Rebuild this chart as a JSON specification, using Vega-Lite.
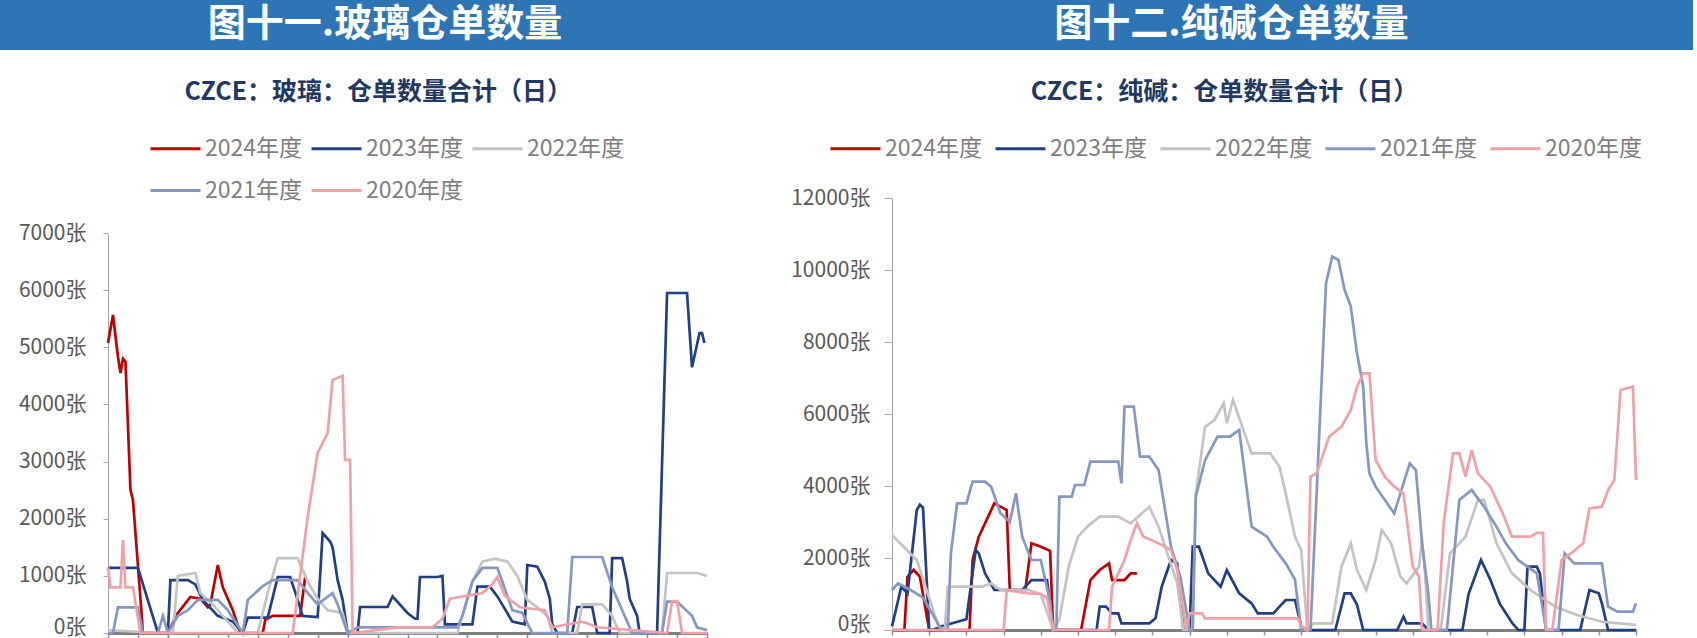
{
  "$schema": "https://vega.github.io/schema/vega-lite/v6.json",
  "padding": 0,
  "background": "#FFFFFF",
  "spacing": 0,
  "config": {
    "font": "Noto Sans CJK SC",
    "view": {"stroke": null},
    "concat": {"spacing": 0},
    "axis": {"grid": false}
  },
  "resolve": {"scale": {"color": "independent"}, "legend": {"color": "independent"}},
  "datasets": {
    "glass": [
      {"s":"2024年度","t":0,"v":5075},{"s":"2024年度","t":2,"v":5565},{"s":"2024年度","t":4,"v":4830},{"s":"2024年度","t":5,"v":4550},{"s":"2024年度","t":6,"v":4800},{"s":"2024年度","t":7,"v":4750},{"s":"2024年度","t":9,"v":2500},{"s":"2024年度","t":10,"v":2330},{"s":"2024年度","t":13,"v":600},{"s":"2024年度","t":14,"v":0},{"s":"2024年度","t":24,"v":0},{"s":"2024年度","t":28,"v":350},{"s":"2024年度","t":33,"v":630},{"s":"2024年度","t":37,"v":600},{"s":"2024年度","t":40,"v":450},{"s":"2024年度","t":41,"v":500},{"s":"2024年度","t":44,"v":1190},{"s":"2024年度","t":46,"v":800},{"s":"2024年度","t":50,"v":400},{"s":"2024年度","t":53,"v":0},{"s":"2024年度","t":62,"v":0},{"s":"2024年度","t":63,"v":230},{"s":"2024年度","t":66,"v":300},{"s":"2024年度","t":77,"v":300},{"s":"2024年度","t":79,"v":980},
      {"s":"2023年度","t":0,"v":1140},{"s":"2023年度","t":12,"v":1140},{"s":"2023年度","t":20,"v":0},{"s":"2023年度","t":24,"v":0},{"s":"2023年度","t":25,"v":925},{"s":"2023年度","t":32,"v":925},{"s":"2023年度","t":35,"v":850},{"s":"2023年度","t":38,"v":580},{"s":"2023年度","t":44,"v":300},{"s":"2023年度","t":50,"v":200},{"s":"2023年度","t":54,"v":0},{"s":"2023年度","t":56,"v":270},{"s":"2023年度","t":64,"v":270},{"s":"2023年度","t":68,"v":980},{"s":"2023年度","t":73,"v":980},{"s":"2023年度","t":76,"v":580},{"s":"2023年度","t":78,"v":300},{"s":"2023年度","t":84,"v":280},{"s":"2023年度","t":86,"v":1750},{"s":"2023年度","t":89,"v":1600},{"s":"2023年度","t":90,"v":1500},{"s":"2023年度","t":92,"v":925},{"s":"2023年度","t":94,"v":580},{"s":"2023年度","t":96,"v":0},{"s":"2023年度","t":100,"v":0},{"s":"2023年度","t":101,"v":455},{"s":"2023年度","t":112,"v":455},{"s":"2023年度","t":114,"v":640},{"s":"2023年度","t":120,"v":350},{"s":"2023年度","t":123,"v":250},{"s":"2023年度","t":124,"v":250},{"s":"2023年度","t":125,"v":980},{"s":"2023年度","t":132,"v":980},{"s":"2023年度","t":134,"v":1000},{"s":"2023年度","t":135,"v":150},{"s":"2023年度","t":146,"v":150},{"s":"2023年度","t":148,"v":810},{"s":"2023年度","t":153,"v":810},{"s":"2023年度","t":156,"v":640},{"s":"2023年度","t":162,"v":200},{"s":"2023年度","t":167,"v":150},{"s":"2023年度","t":168,"v":1190},{"s":"2023年度","t":172,"v":1160},{"s":"2023年度","t":175,"v":900},{"s":"2023年度","t":177,"v":600},{"s":"2023年度","t":178,"v":150},{"s":"2023年度","t":180,"v":0},{"s":"2023年度","t":186,"v":0},{"s":"2023年度","t":188,"v":455},{"s":"2023年度","t":194,"v":455},{"s":"2023年度","t":196,"v":0},{"s":"2023年度","t":201,"v":0},{"s":"2023年度","t":202,"v":1310},{"s":"2023年度","t":206,"v":1310},{"s":"2023年度","t":208,"v":900},{"s":"2023年度","t":209,"v":600},{"s":"2023年度","t":212,"v":300},{"s":"2023年度","t":213,"v":0},{"s":"2023年度","t":220,"v":0},{"s":"2023年度","t":224,"v":5950},{"s":"2023年度","t":232,"v":5950},{"s":"2023年度","t":234,"v":4650},{"s":"2023年度","t":237,"v":5250},{"s":"2023年度","t":238,"v":5250},{"s":"2023年度","t":239,"v":5075},
      {"s":"2022年度","t":0,"v":50},{"s":"2022年度","t":20,"v":0},{"s":"2022年度","t":26,"v":0},{"s":"2022年度","t":28,"v":1000},{"s":"2022年度","t":35,"v":1050},{"s":"2022年度","t":37,"v":700},{"s":"2022年度","t":42,"v":500},{"s":"2022年度","t":46,"v":300},{"s":"2022年度","t":52,"v":0},{"s":"2022年度","t":60,"v":0},{"s":"2022年度","t":64,"v":700},{"s":"2022年度","t":68,"v":1310},{"s":"2022年度","t":76,"v":1310},{"s":"2022年度","t":80,"v":900},{"s":"2022年度","t":84,"v":600},{"s":"2022年度","t":88,"v":400},{"s":"2022年度","t":94,"v":350},{"s":"2022年度","t":96,"v":0},{"s":"2022年度","t":140,"v":0},{"s":"2022年度","t":146,"v":900},{"s":"2022年度","t":150,"v":1250},{"s":"2022年度","t":155,"v":1300},{"s":"2022年度","t":160,"v":1250},{"s":"2022年度","t":164,"v":1000},{"s":"2022年度","t":168,"v":580},{"s":"2022年度","t":172,"v":450},{"s":"2022年度","t":176,"v":300},{"s":"2022年度","t":178,"v":0},{"s":"2022年度","t":188,"v":0},{"s":"2022年度","t":190,"v":500},{"s":"2022年度","t":198,"v":500},{"s":"2022年度","t":202,"v":300},{"s":"2022年度","t":205,"v":0},{"s":"2022年度","t":222,"v":0},{"s":"2022年度","t":224,"v":1050},{"s":"2022年度","t":236,"v":1050},{"s":"2022年度","t":240,"v":1000},
      {"s":"2021年度","t":0,"v":0},{"s":"2021年度","t":2,"v":0},{"s":"2021年度","t":4,"v":450},{"s":"2021年度","t":12,"v":450},{"s":"2021年度","t":14,"v":0},{"s":"2021年度","t":20,"v":0},{"s":"2021年度","t":22,"v":300},{"s":"2021年度","t":24,"v":0},{"s":"2021年度","t":28,"v":300},{"s":"2021年度","t":32,"v":400},{"s":"2021年度","t":36,"v":580},{"s":"2021年度","t":44,"v":580},{"s":"2021年度","t":48,"v":400},{"s":"2021年度","t":54,"v":0},{"s":"2021年度","t":56,"v":580},{"s":"2021年度","t":62,"v":820},{"s":"2021年度","t":66,"v":925},{"s":"2021年度","t":76,"v":925},{"s":"2021年度","t":80,"v":700},{"s":"2021年度","t":84,"v":500},{"s":"2021年度","t":90,"v":700},{"s":"2021年度","t":92,"v":500},{"s":"2021年度","t":96,"v":0},{"s":"2021年度","t":100,"v":100},{"s":"2021年度","t":140,"v":100},{"s":"2021年度","t":142,"v":300},{"s":"2021年度","t":146,"v":900},{"s":"2021年度","t":150,"v":1140},{"s":"2021年度","t":156,"v":1140},{"s":"2021年度","t":158,"v":900},{"s":"2021年度","t":162,"v":400},{"s":"2021年度","t":166,"v":350},{"s":"2021年度","t":170,"v":0},{"s":"2021年度","t":184,"v":0},{"s":"2021年度","t":186,"v":1330},{"s":"2021年度","t":198,"v":1330},{"s":"2021年度","t":202,"v":800},{"s":"2021年度","t":205,"v":500},{"s":"2021年度","t":208,"v":200},{"s":"2021年度","t":210,"v":0},{"s":"2021年度","t":222,"v":0},{"s":"2021年度","t":224,"v":550},{"s":"2021年度","t":228,"v":550},{"s":"2021年度","t":234,"v":300},{"s":"2021年度","t":236,"v":100},{"s":"2021年度","t":240,"v":50},
      {"s":"2020年度","t":0,"v":1150},{"s":"2020年度","t":1,"v":800},{"s":"2020年度","t":5,"v":800},{"s":"2020年度","t":6,"v":1630},{"s":"2020年度","t":7,"v":800},{"s":"2020年度","t":10,"v":800},{"s":"2020年度","t":13,"v":0},{"s":"2020年度","t":74,"v":0},{"s":"2020年度","t":80,"v":2030},{"s":"2020年度","t":84,"v":3150},{"s":"2020年度","t":88,"v":3500},{"s":"2020年度","t":90,"v":4430},{"s":"2020年度","t":94,"v":4500},{"s":"2020年度","t":95,"v":3030},{"s":"2020年度","t":97,"v":3030},{"s":"2020年度","t":98,"v":0},{"s":"2020年度","t":116,"v":100},{"s":"2020年度","t":130,"v":100},{"s":"2020年度","t":134,"v":250},{"s":"2020年度","t":137,"v":600},{"s":"2020年度","t":150,"v":700},{"s":"2020年度","t":154,"v":850},{"s":"2020年度","t":156,"v":980},{"s":"2020年度","t":159,"v":650},{"s":"2020年度","t":165,"v":450},{"s":"2020年度","t":175,"v":400},{"s":"2020年度","t":178,"v":100},{"s":"2020年度","t":190,"v":200},{"s":"2020年度","t":196,"v":100},{"s":"2020年度","t":210,"v":50},{"s":"2020年度","t":224,"v":0},{"s":"2020年度","t":226,"v":560},{"s":"2020年度","t":228,"v":560},{"s":"2020年度","t":230,"v":0},{"s":"2020年度","t":240,"v":0}
    ],
    "soda": [
      {"s":"2024年度","t":0,"v":0},{"s":"2024年度","t":4,"v":0},{"s":"2024年度","t":5,"v":1480},{"s":"2024年度","t":7,"v":1670},{"s":"2024年度","t":9,"v":1480},{"s":"2024年度","t":12,"v":0},{"s":"2024年度","t":25,"v":0},{"s":"2024年度","t":26,"v":1944},{"s":"2024年度","t":28,"v":2592},{"s":"2024年度","t":33,"v":3518},{"s":"2024年度","t":35,"v":3426},{"s":"2024年度","t":37,"v":3333},{"s":"2024年度","t":38,"v":1111},{"s":"2024年度","t":43,"v":1111},{"s":"2024年度","t":45,"v":2407},{"s":"2024年度","t":48,"v":2314},{"s":"2024年度","t":51,"v":2200},{"s":"2024年度","t":52,"v":0},{"s":"2024年度","t":61,"v":0},{"s":"2024年度","t":64,"v":1388},{"s":"2024年度","t":67,"v":1666},{"s":"2024年度","t":70,"v":1851},{"s":"2024年度","t":71,"v":1388},{"s":"2024年度","t":75,"v":1388},{"s":"2024年度","t":77,"v":1574},{"s":"2024年度","t":79,"v":1574},
      {"s":"2023年度","t":0,"v":100},{"s":"2023年度","t":3,"v":1200},{"s":"2023年度","t":5,"v":1018},{"s":"2023年度","t":8,"v":3333},{"s":"2023年度","t":9,"v":3480},{"s":"2023年度","t":10,"v":3400},{"s":"2023年度","t":12,"v":0},{"s":"2023年度","t":13,"v":0},{"s":"2023年度","t":16,"v":100},{"s":"2023年度","t":20,"v":200},{"s":"2023年度","t":24,"v":300},{"s":"2023年度","t":27,"v":2222},{"s":"2023年度","t":28,"v":2129},{"s":"2023年度","t":30,"v":1574},{"s":"2023年度","t":33,"v":1111},{"s":"2023年度","t":42,"v":1111},{"s":"2023年度","t":45,"v":1388},{"s":"2023年度","t":50,"v":1388},{"s":"2023年度","t":52,"v":0},{"s":"2023年度","t":66,"v":0},{"s":"2023年度","t":67,"v":648},{"s":"2023年度","t":69,"v":648},{"s":"2023年度","t":71,"v":462},{"s":"2023年度","t":73,"v":462},{"s":"2023年度","t":74,"v":185},{"s":"2023年度","t":83,"v":185},{"s":"2023年度","t":85,"v":324},{"s":"2023年度","t":87,"v":1203},{"s":"2023年度","t":90,"v":1944},{"s":"2023年度","t":92,"v":1851},{"s":"2023年度","t":94,"v":0},{"s":"2023年度","t":96,"v":0},{"s":"2023年度","t":97,"v":2314},{"s":"2023年度","t":99,"v":2314},{"s":"2023年度","t":102,"v":1574},{"s":"2023年度","t":106,"v":1203},{"s":"2023年度","t":108,"v":1666},{"s":"2023年度","t":112,"v":1018},{"s":"2023年度","t":116,"v":740},{"s":"2023年度","t":118,"v":462},{"s":"2023年度","t":123,"v":462},{"s":"2023年度","t":125,"v":648},{"s":"2023年度","t":127,"v":833},{"s":"2023年度","t":130,"v":833},{"s":"2023年度","t":132,"v":100},{"s":"2023年度","t":134,"v":0},{"s":"2023年度","t":143,"v":0},{"s":"2023年度","t":146,"v":1018},{"s":"2023年度","t":148,"v":1018},{"s":"2023年度","t":150,"v":700},{"s":"2023年度","t":152,"v":0},{"s":"2023年度","t":163,"v":0},{"s":"2023年度","t":165,"v":370},{"s":"2023年度","t":166,"v":185},{"s":"2023年度","t":171,"v":185},{"s":"2023年度","t":173,"v":0},{"s":"2023年度","t":184,"v":0},{"s":"2023年度","t":186,"v":1000},{"s":"2023年度","t":190,"v":1944},{"s":"2023年度","t":193,"v":1400},{"s":"2023年度","t":196,"v":740},{"s":"2023年度","t":200,"v":200},{"s":"2023年度","t":202,"v":0},{"s":"2023年度","t":204,"v":0},{"s":"2023年度","t":205,"v":1759},{"s":"2023年度","t":208,"v":1759},{"s":"2023年度","t":209,"v":1574},{"s":"2023年度","t":211,"v":0},{"s":"2023年度","t":222,"v":0},{"s":"2023年度","t":225,"v":1111},{"s":"2023年度","t":228,"v":1018},{"s":"2023年度","t":229,"v":740},{"s":"2023年度","t":231,"v":0},{"s":"2023年度","t":240,"v":0},
      {"s":"2022年度","t":0,"v":2639},{"s":"2022年度","t":8,"v":1944},{"s":"2022年度","t":15,"v":100},{"s":"2022年度","t":17,"v":0},{"s":"2022年度","t":18,"v":1203},{"s":"2022年度","t":29,"v":1203},{"s":"2022年度","t":32,"v":1296},{"s":"2022年度","t":35,"v":1111},{"s":"2022年度","t":44,"v":1111},{"s":"2022年度","t":48,"v":1000},{"s":"2022年度","t":52,"v":0},{"s":"2022年度","t":54,"v":300},{"s":"2022年度","t":57,"v":1759},{"s":"2022年度","t":60,"v":2592},{"s":"2022年度","t":63,"v":2870},{"s":"2022年度","t":67,"v":3148},{"s":"2022年度","t":73,"v":3148},{"s":"2022年度","t":77,"v":2963},{"s":"2022年度","t":83,"v":3426},{"s":"2022年度","t":86,"v":2870},{"s":"2022年度","t":92,"v":1296},{"s":"2022年度","t":94,"v":0},{"s":"2022年度","t":97,"v":0},{"s":"2022年度","t":98,"v":3796},{"s":"2022年度","t":101,"v":5648},{"s":"2022年度","t":104,"v":5833},{"s":"2022年度","t":107,"v":6296},{"s":"2022年度","t":108,"v":5741},{"s":"2022年度","t":110,"v":6389},{"s":"2022年度","t":116,"v":4907},{"s":"2022年度","t":122,"v":4907},{"s":"2022年度","t":125,"v":4537},{"s":"2022年度","t":127,"v":3796},{"s":"2022年度","t":130,"v":2592},{"s":"2022年度","t":132,"v":2222},{"s":"2022年度","t":134,"v":0},{"s":"2022年度","t":136,"v":185},{"s":"2022年度","t":142,"v":185},{"s":"2022年度","t":145,"v":1759},{"s":"2022年度","t":148,"v":2407},{"s":"2022年度","t":150,"v":1666},{"s":"2022年度","t":153,"v":1111},{"s":"2022年度","t":156,"v":1944},{"s":"2022年度","t":158,"v":2777},{"s":"2022年度","t":161,"v":2407},{"s":"2022年度","t":164,"v":1481},{"s":"2022年度","t":166,"v":1296},{"s":"2022年度","t":170,"v":1759},{"s":"2022年度","t":171,"v":2500},{"s":"2022年度","t":172,"v":1500},{"s":"2022年度","t":173,"v":0},{"s":"2022年度","t":177,"v":0},{"s":"2022年度","t":180,"v":2129},{"s":"2022年度","t":185,"v":2592},{"s":"2022年度","t":189,"v":3611},{"s":"2022年度","t":191,"v":3611},{"s":"2022年度","t":195,"v":2407},{"s":"2022年度","t":200,"v":1574},{"s":"2022年度","t":206,"v":1111},{"s":"2022年度","t":214,"v":648},{"s":"2022年度","t":221,"v":415},{"s":"2022年度","t":229,"v":230},{"s":"2022年度","t":240,"v":140},
      {"s":"2021年度","t":0,"v":1111},{"s":"2021年度","t":2,"v":1296},{"s":"2021年度","t":6,"v":1111},{"s":"2021年度","t":10,"v":900},{"s":"2021年度","t":14,"v":300},{"s":"2021年度","t":16,"v":0},{"s":"2021年度","t":18,"v":0},{"s":"2021年度","t":19,"v":2129},{"s":"2021年度","t":21,"v":3518},{"s":"2021年度","t":24,"v":3518},{"s":"2021年度","t":26,"v":4120},{"s":"2021年度","t":30,"v":4120},{"s":"2021年度","t":32,"v":3981},{"s":"2021年度","t":35,"v":3240},{"s":"2021年度","t":38,"v":3000},{"s":"2021年度","t":40,"v":3800},{"s":"2021年度","t":42,"v":2592},{"s":"2021年度","t":45,"v":1944},{"s":"2021年度","t":48,"v":1944},{"s":"2021年度","t":51,"v":800},{"s":"2021年度","t":52,"v":0},{"s":"2021年度","t":53,"v":0},{"s":"2021年度","t":54,"v":3703},{"s":"2021年度","t":58,"v":3703},{"s":"2021年度","t":59,"v":4028},{"s":"2021年度","t":62,"v":4028},{"s":"2021年度","t":64,"v":4676},{"s":"2021年度","t":73,"v":4676},{"s":"2021年度","t":74,"v":4074},{"s":"2021年度","t":75,"v":6204},{"s":"2021年度","t":78,"v":6204},{"s":"2021年度","t":80,"v":4815},{"s":"2021年度","t":83,"v":4815},{"s":"2021年度","t":86,"v":4444},{"s":"2021年度","t":90,"v":2314},{"s":"2021年度","t":93,"v":1481},{"s":"2021年度","t":96,"v":0},{"s":"2021年度","t":97,"v":0},{"s":"2021年度","t":98,"v":3703},{"s":"2021年度","t":101,"v":4722},{"s":"2021年度","t":105,"v":5370},{"s":"2021年度","t":109,"v":5370},{"s":"2021年度","t":112,"v":5555},{"s":"2021年度","t":116,"v":2870},{"s":"2021年度","t":121,"v":2592},{"s":"2021年度","t":123,"v":2314},{"s":"2021年度","t":127,"v":1851},{"s":"2021年度","t":130,"v":1400},{"s":"2021年度","t":132,"v":0},{"s":"2021年度","t":135,"v":0},{"s":"2021年度","t":140,"v":9630},{"s":"2021年度","t":142,"v":10371},{"s":"2021年度","t":144,"v":10278},{"s":"2021年度","t":146,"v":9445},{"s":"2021年度","t":148,"v":8982},{"s":"2021年度","t":150,"v":7685},{"s":"2021年度","t":152,"v":6759},{"s":"2021年度","t":153,"v":5200},{"s":"2021年度","t":154,"v":4352},{"s":"2021年度","t":156,"v":3981},{"s":"2021年度","t":162,"v":3240},{"s":"2021年度","t":167,"v":4630},{"s":"2021年度","t":169,"v":4444},{"s":"2021年度","t":171,"v":2407},{"s":"2021年度","t":173,"v":1018},{"s":"2021年度","t":174,"v":0},{"s":"2021年度","t":179,"v":0},{"s":"2021年度","t":183,"v":3611},{"s":"2021年度","t":187,"v":3889},{"s":"2021年度","t":191,"v":3426},{"s":"2021年度","t":195,"v":2870},{"s":"2021年度","t":198,"v":2407},{"s":"2021年度","t":202,"v":1944},{"s":"2021年度","t":208,"v":1574},{"s":"2021年度","t":211,"v":0},{"s":"2021年度","t":215,"v":0},{"s":"2021年度","t":217,"v":2129},{"s":"2021年度","t":220,"v":1851},{"s":"2021年度","t":229,"v":1851},{"s":"2021年度","t":231,"v":648},{"s":"2021年度","t":234,"v":509},{"s":"2021年度","t":239,"v":509},{"s":"2021年度","t":240,"v":740},
      {"s":"2020年度","t":0,"v":0},{"s":"2020年度","t":36,"v":0},{"s":"2020年度","t":37,"v":1100},{"s":"2020年度","t":44,"v":1018},{"s":"2020年度","t":48,"v":1000},{"s":"2020年度","t":50,"v":900},{"s":"2020年度","t":52,"v":0},{"s":"2020年度","t":70,"v":0},{"s":"2020年度","t":71,"v":1203},{"s":"2020年度","t":75,"v":1944},{"s":"2020年度","t":77,"v":2500},{"s":"2020年度","t":79,"v":2963},{"s":"2020年度","t":81,"v":2600},{"s":"2020年度","t":86,"v":2407},{"s":"2020年度","t":90,"v":2222},{"s":"2020年度","t":92,"v":1666},{"s":"2020年度","t":95,"v":0},{"s":"2020年度","t":96,"v":462},{"s":"2020年度","t":100,"v":462},{"s":"2020年度","t":101,"v":324},{"s":"2020年度","t":131,"v":324},{"s":"2020年度","t":132,"v":100},{"s":"2020年度","t":134,"v":0},{"s":"2020年度","t":135,"v":4259},{"s":"2020年度","t":137,"v":4352},{"s":"2020年度","t":141,"v":5370},{"s":"2020年度","t":145,"v":5648},{"s":"2020年度","t":148,"v":6111},{"s":"2020年度","t":150,"v":6759},{"s":"2020年度","t":152,"v":7130},{"s":"2020年度","t":154,"v":7130},{"s":"2020年度","t":156,"v":4722},{"s":"2020年度","t":159,"v":4259},{"s":"2020年度","t":162,"v":3981},{"s":"2020年度","t":165,"v":3796},{"s":"2020年度","t":168,"v":1759},{"s":"2020年度","t":170,"v":1481},{"s":"2020年度","t":171,"v":0},{"s":"2020年度","t":176,"v":0},{"s":"2020年度","t":178,"v":3000},{"s":"2020年度","t":181,"v":4907},{"s":"2020年度","t":183,"v":4907},{"s":"2020年度","t":185,"v":4259},{"s":"2020年度","t":187,"v":5000},{"s":"2020年度","t":189,"v":4352},{"s":"2020年度","t":193,"v":3981},{"s":"2020年度","t":197,"v":3240},{"s":"2020年度","t":200,"v":2592},{"s":"2020年度","t":206,"v":2592},{"s":"2020年度","t":208,"v":2700},{"s":"2020年度","t":210,"v":2700},{"s":"2020年度","t":211,"v":0},{"s":"2020年度","t":213,"v":0},{"s":"2020年度","t":216,"v":1944},{"s":"2020年度","t":219,"v":2129},{"s":"2020年度","t":223,"v":2407},{"s":"2020年度","t":225,"v":3379},{"s":"2020年度","t":229,"v":3426},{"s":"2020年度","t":231,"v":3889},{"s":"2020年度","t":233,"v":4166},{"s":"2020年度","t":235,"v":6667},{"s":"2020年度","t":239,"v":6759},{"s":"2020年度","t":240,"v":4166}
    ]
  },
  "hconcat": [
    {
      "spacing": 30,
      "resolve": {"scale": {"color": "independent"}, "legend": {"color": "independent"}},
      "vconcat": [
        {
          "width": 770,
          "height": 50,
          "view": {"fill": "#2E75B6", "stroke": null},
          "data": {"values": [{"h": "图十一.玻璃仓单数量"}]},
          "mark": {"type": "text", "color": "#FFFFFF", "fontSize": 38, "fontWeight": "bold", "align": "center", "baseline": "middle"},
          "encoding": {"text": {"field": "h", "type": "nominal"}}
        },
        {
          "width": 707,
          "height": 400,
          "data": {"name": "glass"},
          "title": {"text": "CZCE：玻璃：仓单数量合计（日）", "fontSize": 25, "fontWeight": "bold", "color": "#1F3864", "anchor": "middle", "frame": "bounds", "offset": 17, "dx": 22},
          "mark": {"type": "line", "strokeWidth": 2.7},
          "encoding": {
            "x": {
              "field": "t", "type": "quantitative",
              "scale": {"domain": [0, 240], "range": [108, 707], "nice": false, "zero": false},
              "axis": {"title": null, "labels": false, "values": [0,12,24,36,48,60,72,84,96,108,120,132,144,156,168,180,192,204,216,228,240], "tickSize": 5, "tickWidth": 1.5, "tickColor": "#8C8C8C", "domainColor": "#7F7F7F", "domainWidth": 3}
            },
            "y": {
              "field": "v", "type": "quantitative",
              "scale": {"domain": [0, 7000], "nice": false},
              "axis": {"title": null, "offset": -108, "values": [0,1000,2000,3000,4000,5000,6000,7000], "labelExpr": "datum.value + '张'", "labelFontSize": 21, "labelColor": "#595959", "labelPadding": 17, "tickSize": 5, "tickColor": "#A6A6A6", "domainColor": "#A6A6A6", "labelBaseline": {"condition": {"test": "datum.value === 0", "value": "alphabetic"}, "value": "middle"}}
            },
            "color": {
              "field": "s", "type": "nominal",
              "scale": {"domain": ["2024年度","2023年度","2022年度","2021年度","2020年度"], "range": ["#C00000","#1F3F86","#C3C3C3","#8597C2","#F2A0A8"]},
              "legend": {"title": null, "orient": "none", "legendX": 149, "legendY": -111, "direction": "horizontal", "columns": 3, "symbolType": "stroke", "symbolSize": 2500, "symbolStrokeWidth": 3, "labelFontSize": 23, "labelColor": "#7F7F7F", "labelOffset": 3, "columnPadding": 2, "rowPadding": 3, "padding": 0}
            }
          }
        }
      ]
    },
    {
      "spacing": 30,
      "resolve": {"scale": {"color": "independent"}, "legend": {"color": "independent"}},
      "vconcat": [
        {
          "width": 923,
          "height": 50,
          "view": {"fill": "#2E75B6", "stroke": null},
          "data": {"values": [{"h": "图十二.纯碱仓单数量"}]},
          "mark": {"type": "text", "color": "#FFFFFF", "fontSize": 38, "fontWeight": "bold", "align": "center", "baseline": "middle"},
          "encoding": {"text": {"field": "h", "type": "nominal"}}
        },
        {
          "width": 866,
          "height": 432,
          "data": {"name": "soda"},
          "title": {"text": "CZCE：纯碱：仓单数量合计（日）", "fontSize": 25, "fontWeight": "bold", "color": "#1F3864", "anchor": "middle", "frame": "bounds", "offset": 17, "dx": 18},
          "mark": {"type": "line", "strokeWidth": 2.7},
          "encoding": {
            "x": {
              "field": "t", "type": "quantitative",
              "scale": {"domain": [0, 240], "range": [122, 866], "nice": false, "zero": false},
              "axis": {"title": null, "labels": false, "values": [0,12,24,36,48,60,72,84,96,108,120,132,144,156,168,180,192,204,216,228,240], "tickSize": 5, "tickWidth": 1.5, "tickColor": "#8C8C8C", "domainColor": "#7F7F7F", "domainWidth": 3}
            },
            "y": {
              "field": "v", "type": "quantitative",
              "scale": {"domain": [0, 12000], "nice": false},
              "axis": {"title": null, "offset": -122, "values": [0,2000,4000,6000,8000,10000,12000], "labelExpr": "datum.value + '张'", "labelFontSize": 21, "labelColor": "#595959", "labelPadding": 14, "tickSize": 8, "tickColor": "#A6A6A6", "domainColor": "#A6A6A6", "labelBaseline": {"condition": {"test": "datum.value === 0", "value": "alphabetic"}, "value": "middle"}}
            },
            "color": {
              "field": "s", "type": "nominal",
              "scale": {"domain": ["2024年度","2023年度","2022年度","2021年度","2020年度"], "range": ["#C00000","#1F3F86","#C3C3C3","#8597C2","#F2A0A8"]},
              "legend": {"title": null, "orient": "none", "legendX": 59, "legendY": -76, "direction": "horizontal", "columns": 5, "symbolType": "stroke", "symbolSize": 2500, "symbolStrokeWidth": 3, "labelFontSize": 23, "labelColor": "#7F7F7F", "labelOffset": 3, "columnPadding": 6, "rowPadding": 3, "padding": 0}
            }
          }
        }
      ]
    }
  ]
}
